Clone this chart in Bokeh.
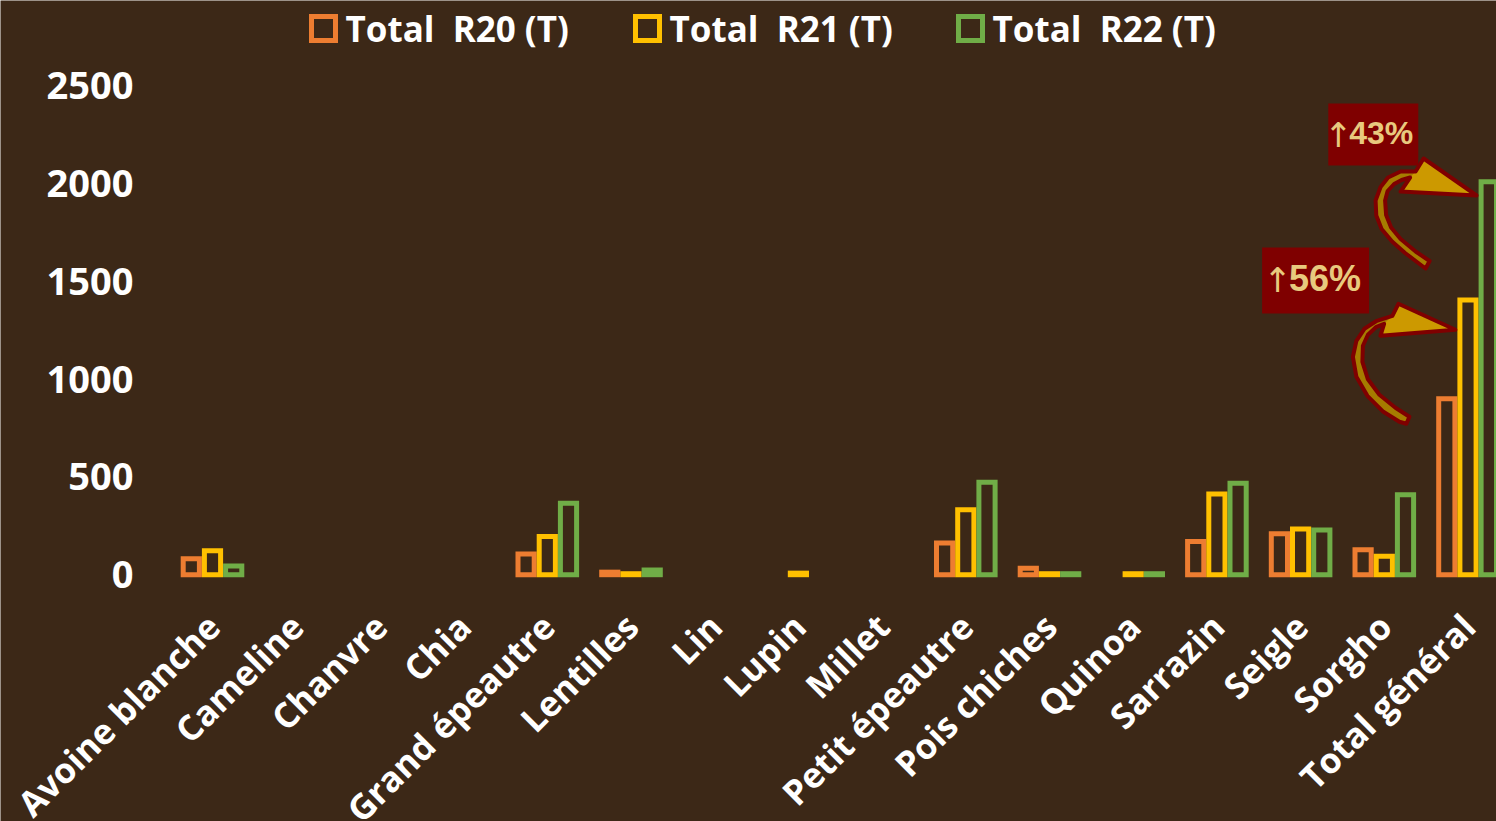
import math
import numpy as np
from bokeh.plotting import figure
from bokeh.models import (Range1d, FixedTicker, ColumnDataSource, Legend, LegendItem)
from bokeh.transform import dodge
from bokeh.core.properties import value
from bokeh.embed import file_html
from bokeh.resources import INLINE

# ---------------- data ----------------
categories = ["Avoine blanche", "Cameline", "Chanvre", "Chia", "Grand épeautre",
              "Lentilles", "Lin", "Lupin", "Millet", "Petit épeautre",
              "Pois chiches", "Quinoa", "Sarrazin", "Seigle", "Sorgho",
              "Total général"]
total_r20 = [82, None, None, None, 106, 13, None, None, None, 162, 33, None, 170, 210, 127, 900]
total_r21 = [123, None, None, None, 196, 5, None, 8, None, 332, 5, 5, 413, 234, 95, 1405]
total_r22 = [45, None, None, None, 365, 24, None, None, None, 473, 5, 5, 468, 229, 409, 2010]
series_labels = ["Total  R20 (T)", "Total  R21 (T)", "Total  R22 (T)"]
y_ticks = [0, 500, 1000, 1500, 2000, 2500]
growth_values = ["56%", "43%"]

# ---------------- style / layout ----------------
BG = "#3C2817"
COLORS = ["#ED7D31", "#FFC000", "#70AD47"]
MAROON = "#7F0000"
GOLD_HEAD = "#CC9900"
GOLD_SHAFT = "#A67C00"
TXT_GOLD = "#E8C97E"

W, H = 1496, 821
FIRST_PX, STEP_PX = 212.0, 83.7   # centre of first category, category spacing
PLOT_LEFT_PX = 170                # left edge of the bar area (y axis position)
ZERO_PX = 574.2                   # vertical pixel of the zero line
ppy = 0.1955                      # px per tonne
ppx = STEP_PX
X0, X1 = -FIRST_PX / ppx, (W - FIRST_PX) / ppx
Y0, Y1 = -(H - ZERO_PX) / ppy, ZERO_PX / ppy

SLOT_PX, STROKE = 21.2, 5
slot = SLOT_PX / ppx
bw = (SLOT_PX - STROKE) / ppx

def nan(v):
    return np.array([np.nan if a is None else a for a in v], dtype=float)

xs_idx = list(range(len(categories)))
src = ColumnDataSource(dict(x=xs_idx, r20=nan(total_r20), r21=nan(total_r21), r22=nan(total_r22)))

p = figure(width=W, height=H, x_range=Range1d(X0, X1), y_range=Range1d(Y0, Y1),
           output_backend="svg", toolbar_location=None, title=None, x_axis_location=None,
           min_border_left=0, min_border_right=0, min_border_top=0, min_border_bottom=0,
           border_fill_color=BG, background_fill_color=BG, outline_line_color=None)
p.xgrid.grid_line_color = None
p.ygrid.grid_line_color = None

renderers = []
for off, col, c in zip([-slot, 0, slot], ["r20", "r21", "r22"], COLORS):
    r = p.vbar(x=dodge("x", off), top=col, bottom=0, width=bw, source=src,
               fill_color=None, line_color=c, line_width=STROKE, line_join="miter")
    renderers.append(r)

# y axis, pinned at the left edge of the bar area
p.yaxis.fixed_location = (PLOT_LEFT_PX - FIRST_PX) / ppx
p.yaxis.ticker = FixedTicker(ticks=y_ticks)
p.yaxis.axis_line_color = None
p.yaxis.major_tick_line_color = None
p.yaxis.minor_tick_line_color = None
p.yaxis.major_tick_out = 0
p.yaxis.major_tick_in = 0
p.yaxis.major_label_text_color = "white"
p.yaxis.major_label_text_font = "Open Sans"
p.yaxis.major_label_text_font_style = "bold"
p.yaxis.major_label_text_font_size = "38px"
p.yaxis.major_label_standoff = 37

# category labels, rotated, below the zero line
lab_src = ColumnDataSource(dict(x=xs_idx, y=[0] * len(categories), name=categories))
p.text(x=dodge("x", 0.5 / ppx), y=dodge("y", -(619.5 - ZERO_PX) / ppy), text="name",
       source=lab_src, angle=math.pi / 4, text_align="right", text_baseline="alphabetic",
       text_color="white", text_font=value("Open Sans"), text_font_style="bold",
       text_font_size=value("35px"))

# legends (one per item)
leg_x = [307.5, 631.5, 954.5]
for lab, r, lx in zip(series_labels, renderers, leg_x):
    leg = Legend(items=[LegendItem(label=lab, renderers=[r])], location=(lx, H - 51.5),
                 orientation="horizontal", padding=0, margin=0, spacing=0,
                 glyph_width=30, glyph_height=30, label_standoff=8,
                 label_text_color="white", label_text_font="Open Sans",
                 label_text_font_style="bold", label_text_font_size="35px",
                 border_line_color=None, background_fill_alpha=0)
    p.add_layout(leg)

# ---------------- growth annotations ----------------
last = len(categories) - 1
tip_x = [last - (SLOT_PX / 2) / ppx, last + slot - (SLOT_PX / 2) / ppx]   # outer left edges of R21 / R22 total bars
tip_y = [1252.7, 1939.6]

box_off = [(-141.8, -49.3), (-105.3, -61.0)]
box_size = [(107, 66), (90, 62)]
arrow_glyph_dx = [-38, -35]
pct_dx = [9.5, 8]
pct_fs = ["36px", "32px"]

def px(tx, ty, dx, dy):
    return tx + dx / ppx, ty - dy / ppy

for tx, ty, (bdx, bdy), (bwid, bhei), adx, tdx, fs, t in zip(
        tip_x, tip_y, box_off, box_size, arrow_glyph_dx, pct_dx, pct_fs, growth_values):
    bx, by = px(tx, ty, bdx, bdy)
    p.rect(x=[bx], y=[by], width=[bwid], height=[bhei], width_units="screen",
           height_units="screen", fill_color=MAROON, line_color=None)
    ax_, ay_ = px(bx, by, adx, 0)
    p.text(x=[ax_], y=[ay_], text=["↑"], text_align="center", text_baseline="middle",
           text_color=TXT_GOLD, text_font=value("DejaVu Sans"),
           text_font_size=value("34px"))
    qx, qy = px(bx, by, tdx, -2)
    p.text(x=[qx], y=[qy], text=[t], text_align="center", text_baseline="middle",
           text_color=TXT_GOLD, text_font=value("Liberation Sans"),
           text_font_style="bold", text_font_size=value(fs))

# curved arrows (pixel offsets from the outer arrow tip)
outline_56 = [(-2, 0), (-59, -26), (-65, -14), (-80.5, -9), (-93, -1), (-101, 11), (-104.5, 27),
              (-101, 47), (-90, 66), (-74, 82), (-58, 92), (-51, 94), (-48, 87), (-62, 78),
              (-78, 65), (-89.5, 49.5), (-95, 32), (-94.5, 16), (-89.5, 5), (-81, -3),
              (-73.3, -6), (-77, 6)]
head_56 = [(-2, 0), (-59, -26), (-65, -14), (-73.3, -6), (-77, 6)]
outline_43 = [(-2, 0), (-55, -37), (-63, -24), (-78, -24), (-90.5, -18), (-98, -8.5), (-103, 5),
              (-102.3, 20), (-97, 33.5), (-86.5, 46), (-73.5, 57.5), (-59, 68.5), (-53, 73),
              (-49, 65.5), (-63, 56), (-78, 43.5), (-87.5, 32), (-92.5, 19.5), (-93.5, 5),
              (-91, -4.5), (-84.5, -11.5), (-77, -15.5), (-68.5, -18), (-78, -4)]
head_43 = [(-2, 0), (-55, -37), (-63, -24), (-68.5, -18), (-78, -4)]

def to_data(tx, ty, pts):
    xs = [tx + dx / ppx for dx, dy in pts]
    ys = [ty - dy / ppy for dx, dy in pts]
    return xs, ys

for tx, ty, outl, head in zip(tip_x, tip_y, [outline_56, outline_43], [head_56, head_43]):
    xs, ys = to_data(tx, ty, outl)
    p.patch(xs, ys, fill_color=GOLD_SHAFT, line_color=None)
    hx, hy = to_data(tx, ty, head)
    p.patch(hx, hy, fill_color=GOLD_HEAD, line_color=None)
    p.patch(xs, ys, fill_color=None, line_color=MAROON, line_width=4, line_join="round")

open("out.html", "w").write(file_html(p, INLINE))
